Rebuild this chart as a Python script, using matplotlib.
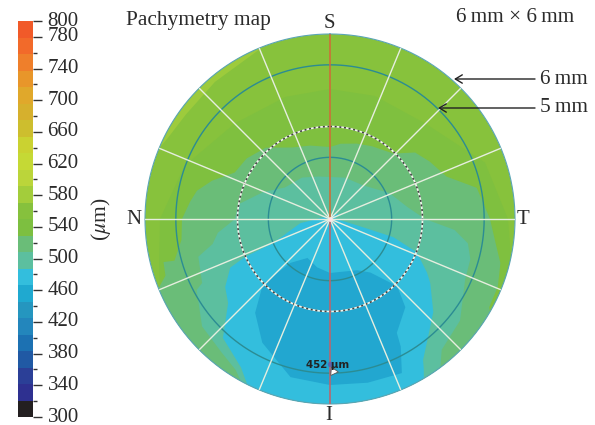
import numpy as np
import matplotlib
matplotlib.use("Agg")
import matplotlib.pyplot as plt
from matplotlib.colors import ListedColormap, BoundaryNorm

plt.rcParams['font.family'] = ['Liberation Serif', 'DejaVu Serif']
plt.rcParams['mathtext.fontset'] = 'stix'

W, H = 595, 425

# Colour scale
bar_colors = ['#231F20', '#2E3090', '#2B3F97', '#2059A4', '#1C71B2', '#2386BC',
              '#2596BF', '#1FA9D0', '#33BEDD', '#5CBF9F', '#6ABD78', '#7DBF40',
              '#86C13D', '#A3CD3B', '#BBD53A', '#C5D935', '#CAD231', '#CDBE2E',
              '#D6B02D', '#E0A82B', '#E8962A', '#EF7F2B', '#F26A2A', '#F15A29']
major_ticks = [300, 340, 380, 420, 460, 500, 540, 580, 620, 660, 700, 740, 780, 800]
minor_ticks = [320, 360, 400, 440, 480, 520, 560, 600, 640, 680, 720, 760]

# Thickness contours: bearing (deg, clockwise from S) and radius (map units, rim = 185)
band_b = [0, 20, 45, 70, 90, 110, 130, 150, 170, 190, 210, 230, 240, 255, 270, 290, 315, 340, 360]
band_r = [130, 131, 135, 165, 178, 195, 200, 200, 200, 200, 200, 200, 195, 177, 170, 155, 135, 130, 130]

lime_b = [288, 297, 306, 320, 335, 344, 344, 330, 316, 302, 288]
lime_r = [190, 181, 178, 179, 182, 190, 200, 200, 200, 200, 200]

c520_b = [0, 8, 19.5, 30, 44, 52, 60, 70, 78, 90, 98, 104.5, 112, 119, 125, 140, 155, 170, 185, 200,
          215, 230, 248, 251, 255.5, 255, 262, 270, 277, 282, 288, 296, 306, 318, 332, 345, 360]
c520_r = [72, 76, 80, 84, 91, 108, 115, 124, 150, 160, 167, 176, 181, 182, 200, 200, 200, 200, 200, 200,
          200, 200, 185, 174, 172, 161, 150, 148, 141, 136, 124, 106, 103, 96, 81, 76, 72]

c500_b = [0, 20, 44, 66.5, 81, 90, 95, 100, 106, 114, 128, 139.5, 147, 160, 175, 190, 205, 212, 219, 230,
          242, 243.4, 254, 258, 263, 270, 279, 292, 305, 326, 345, 360]
c500_r = [42, 44, 47, 65, 78, 95, 125, 140, 146, 148, 165, 172, 200, 200, 200, 200, 195, 178, 172, 167,
          151, 143, 137, 120, 113, 95, 93, 72, 55, 50, 44, 42]

c480_b = [60, 85, 104, 106, 111, 119, 122.6, 132, 141, 146.6, 148, 152, 165, 180, 195, 203, 205, 211, 222,
          230.5, 237, 244, 246, 247, 262, 270, 290, 360, 420]
c480_r = [10, 5, 34, 66, 93, 111, 119, 139, 155, 169, 177, 200, 200, 200, 200, 195, 190, 173, 160,
          132, 125, 111, 93, 62, 30, 13, 6, 3, 10]

c460_b = [135, 139.5, 149.6, 151, 155, 167, 180, 194, 208.7, 218.6, 226, 222, 210, 195, 180, 152, 143, 135]
c460_r = [95, 116, 132, 146, 170, 168, 166, 163, 141, 120, 93, 59, 45, 50, 54, 58, 67, 95]

ring_diam_mm = [2, 5, 6]
dashed_diam_mm = [3]
spoke_bearings = [22.5, 45, 67.5, 90, 112.5, 135, 157.5, 202.5, 225, 247.5, 270, 292.5, 315, 337.5]

RIM = 185.0
CX, CY = 330, 219


def xf(x):
    return x / W


def yf(y):
    return 1 - y / H


fig = plt.figure(figsize=(W / 100, H / 100), dpi=100, facecolor='white')

# ---------- map ----------
ax = fig.add_axes([(CX - RIM) / W, 1 - (CY + RIM) / H, 2 * RIM / W, 2 * RIM / H], projection='polar')
ax.set_theta_zero_location('N')
ax.set_theta_direction(-1)
ax.set_ylim(0, RIM)
ax.set_axis_off()
theta = np.linspace(0, 2 * np.pi, 721)
ax.fill(theta, np.full_like(theta, RIM), color='#87C23C', lw=0, zorder=1)


def region(b, r, color, z):
    ax.fill(np.radians(b), r, color=color, lw=0, zorder=z)


region(band_b, band_r, '#7FC03F', 2)
region(lime_b, lime_r, '#9DCB3C', 2.5)
region(c520_b, c520_r, '#6ABD78', 3)
region(c500_b, c500_r, '#5CBF9F', 4)
region(c480_b, c480_r, '#33BEDD', 5)
region(c460_b, c460_r, '#22A7D0', 6)

for d in ring_diam_mm[:2]:
    ax.plot(theta, np.full_like(theta, d / 6 * RIM), color='#2B8C93', lw=1.0, zorder=7)
for d in dashed_diam_mm:
    rr = np.full_like(theta, d / 6 * RIM)
    ax.plot(theta, rr, color='#F2F6EE', lw=1.2, zorder=7)
    ax.plot(theta, rr, color='#444444', lw=1.2, dashes=(1.2, 1.6), zorder=7.1)
ax.plot(theta, np.full_like(theta, RIM), color='#5AA5B5', lw=0.8, zorder=7, clip_on=False)

for b in spoke_bearings:
    t = np.radians(b)
    ax.plot([t, t], [0, RIM], color='#E6EEDF', lw=1.0, zorder=8)
ax.plot([0, 0], [0, RIM], color='#CC7038', lw=1.2, zorder=8.5)
ax.plot([np.pi, np.pi], [0, RIM], color='#B8676F', lw=1.2, zorder=8.5)
ax.plot([0], [0], 'o', color='#FBE6E6', ms=3.5, mew=0, zorder=9)

# readout
ax.plot([np.pi], [145], 'o', color='#5A55B0', ms=4, mew=0, zorder=9, alpha=.7)
fig.text(xf(328), yf(365.5), '452 μm', family='DejaVu Sans', weight='bold', fontsize=7.4,
         color='#222222', ha='center', va='center', zorder=12)
ax.plot([np.radians(179)], [152], marker=(3, 0, 25), color='white', mec='#555555', mew=.6, ms=7, zorder=10)

# ---------- colour bar ----------
cax = fig.add_axes([18 / W, 1 - 417 / H, 15 / W, 396 / H])
bounds = np.linspace(300, 800, 25)
cmap = ListedColormap(bar_colors)
norm = BoundaryNorm(bounds, cmap.N)
cax.pcolormesh([0, 1], bounds, (bounds[:-1] + bounds[1:]).reshape(-1, 1) / 2, cmap=cmap, norm=norm)
cax.set_xticks([])
cax.yaxis.tick_right()
cax.set_yticks(major_ticks)
cax.set_yticks(minor_ticks, minor=True)
cax.tick_params(axis='y', which='major', length=6.5, width=1.0, color='#333333', labelsize=15,
                labelcolor='#2b2b2b', pad=4)
cax.tick_params(axis='y', which='minor', length=3, width=1.0, color='#333333')
for s in cax.spines.values():
    s.set_visible(False)
for lab in cax.get_yticklabels():
    lab.set_verticalalignment('center')

# ---------- texts ----------
tc = '#2b2b2b'
fig.text(xf(101), yf(219), r'($\mu$m)', rotation=90, fontsize=15.5, color=tc, ha='center', va='center')
fig.text(xf(126), yf(21), 'Pachymetry map', fontsize=15.4, color=tc, ha='left', va='center')
fig.text(xf(456), yf(17), '6\u2009mm × 6\u2009mm', fontsize=15.3, color=tc, ha='left', va='center')
for s, x, y in [('S', 329, 23), ('N', 134, 219), ('T', 523, 219), ('I', 329, 416)]:
    fig.text(xf(x), yf(y), s, fontsize=15, color=tc, ha='center', va='center')

for lab, y, xt in [('6\u2009mm', 79, 454), ('5\u2009mm', 108, 438)]:
    fig.text(xf(540), yf(y), lab, fontsize=15.3, color=tc, ha='left', va='center')
    ax.annotate('', xy=(xf(xt), yf(y)), xytext=(xf(535), yf(y)), xycoords='figure fraction',
                textcoords='figure fraction',
                arrowprops=dict(arrowstyle='->,head_length=0.5,head_width=0.3', color='#222222', lw=1,
                                shrinkA=0, shrinkB=0), zorder=12)

fig.savefig('out.png', dpi=100, facecolor='white')
